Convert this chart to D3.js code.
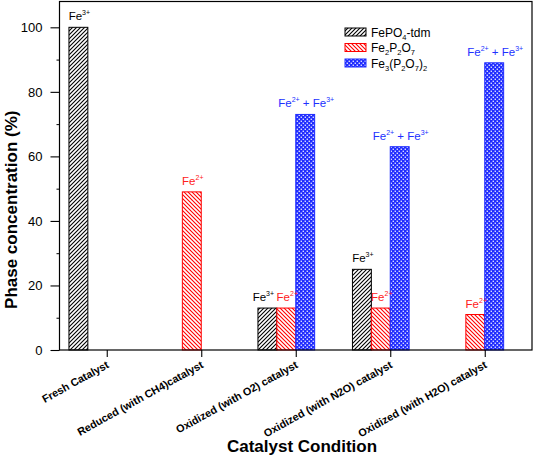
<!DOCTYPE html>
<html><head><meta charset="utf-8">
<script src="https://cdn.jsdelivr.net/npm/d3@7"></script>
<style>body{margin:0;background:#fff}svg{display:block;font-family:"Liberation Sans",Arial,sans-serif}</style>
</head><body>
<script>
const categories = ["Fresh Catalyst","Reduced (with CH4)catalyst","Oxidized (with O2) catalyst","Oxidized (with N2O) catalyst","Oxidized (with H2O) catalyst"];
const fepo4 = [100, 0, 13, 25, 0];
const fe2p2o7 = [0, 49, 13, 13, 11];
const fe3p2o7 = [0, 0, 73, 63, 89];
const yTicks = [0, 20, 40, 60, 80, 100];
const yMinor = [10, 30, 50, 70, 90];
// annotations: [category index, series index, text parts (base, superscript, ...)]
const annotations = [
  [0, 0, "Fe", "3+"],
  [1, 1, "Fe", "2+"],
  [2, 0, "Fe", "3+"],
  [2, 1, "Fe", "2+"],
  [2, 2, "Fe", "2+", " + Fe", "3+"],
  [3, 0, "Fe", "3+"],
  [3, 1, "Fe", "2+"],
  [3, 2, "Fe", "2+", " + Fe", "3+"],
  [4, 1, "Fe", "2+"],
  [4, 2, "Fe", "2+", " + Fe", "3+"]
];
const seriesNames = [["FePO","4","-tdm"],["Fe","2","P","2","O","7"],["Fe","3","(P","2","O","7",")","2"]];

(function(){
const W = 534, H = 457;
const mL = 59.5, mR = 532, mT = 1.5, mB = 350;
const svg = d3.select("body").append("svg").attr("width", W).attr("height", H);
const defs = svg.append("defs");

const pb = defs.append("pattern").attr("id","pBlack").attr("patternUnits","userSpaceOnUse").attr("width",4).attr("height",4);
pb.append("rect").attr("width",4).attr("height",4).attr("fill","#fff");
pb.append("path").attr("d","M-1,1 L1,-1 M0,4 L4,0 M3,5 L5,3").attr("stroke","#000").attr("stroke-width",1.1);
const pr = defs.append("pattern").attr("id","pRed").attr("patternUnits","userSpaceOnUse").attr("width",4).attr("height",4);
pr.append("rect").attr("width",4).attr("height",4).attr("fill","#fff");
pr.append("path").attr("d","M-1,3 L1,5 M0,0 L4,4 M3,-1 L5,1").attr("stroke","#ff0000").attr("stroke-width",1.1);
const pbl = defs.append("pattern").attr("id","pBlue").attr("patternUnits","userSpaceOnUse").attr("width",4).attr("height",4);
pbl.append("rect").attr("width",4).attr("height",4).attr("fill","#1f2cff");
pbl.append("rect").attr("x",0.6).attr("y",0.6).attr("width",1.3).attr("height",1.3).attr("fill","#fff");
pbl.append("rect").attr("x",2.6).attr("y",2.6).attr("width",1.3).attr("height",1.3).attr("fill","#fff");

const fills = ["url(#pBlack)","url(#pRed)","url(#pBlue)"];
const strokes = ["#000","#ff0000","#1f2cff"];
const textColors = ["#000","#ff2020","#2030ff"];
const series = [fepo4, fe2p2o7, fe3p2o7];

const x = d3.scaleLinear().domain([0.5, 5.5]).range([mL, mR]);
const y = d3.scaleLinear().domain([0, 108]).range([mB, mT]);
const bw = 0.2;

series.forEach((vals, s) => {
  svg.append("g").selectAll("rect").data(vals.map((v,i)=>({v,i})).filter(d=>d.v>0)).join("rect")
    .attr("x", d => x(d.i + 1 + (s - 2) * bw))
    .attr("width", x(bw) - x(0))
    .attr("y", d => y(d.v))
    .attr("height", d => y(0) - y(d.v))
    .attr("fill", fills[s]).attr("stroke", strokes[s]).attr("stroke-width", 1);
});

svg.append("rect").attr("x",mL).attr("y",mT).attr("width",mR-mL).attr("height",mB-mT)
  .attr("fill","none").attr("stroke","#000").attr("stroke-width",1.2);

const ya = svg.append("g").attr("transform",`translate(${mL},0)`)
  .call(d3.axisLeft(y).tickValues(yTicks).tickSize(9).tickPadding(8).tickFormat(d3.format("d")));
ya.select(".domain").remove();
ya.selectAll("text").attr("font-size",13).attr("font-family","Liberation Sans, Arial, sans-serif");
ya.selectAll("line").attr("stroke-width",1.1);
const ym = svg.append("g").attr("transform",`translate(${mL},0)`)
  .call(d3.axisLeft(y).tickValues(yMinor).tickSize(3).tickFormat(""));
ym.select(".domain").remove();

const xa = svg.append("g").attr("transform",`translate(0,${mB})`)
  .call(d3.axisBottom(x).tickValues([1,2,3,4,5]).tickSize(7).tickFormat(""));
xa.select(".domain").remove();
xa.selectAll("line").attr("stroke-width",1.1);
svg.append("g").selectAll("text").data(categories).join("text")
  .attr("transform",(d,i)=>`translate(${x(i+1)+3},${mB+17}) rotate(-29)`)
  .attr("text-anchor","end").attr("font-size",10.8).attr("font-weight","bold").text(d=>d);

svg.append("text").attr("x",302).attr("y",452).attr("text-anchor","middle")
  .attr("font-size",17).attr("font-weight","bold").text("Catalyst Condition");
svg.append("text").attr("transform",`translate(17,${(mT+mB)/2+34}) rotate(-90)`).attr("text-anchor","middle")
  .attr("font-size",17).attr("font-weight","bold").text("Phase concentration (%)");

const lg = svg.append("g");
seriesNames.forEach((parts, s) => {
  const ly = 32 + s * 15.5;
  lg.append("rect").attr("x",345).attr("y",ly-4).attr("width",21).attr("height",8)
    .attr("fill",fills[s]).attr("stroke",strokes[s]);
  const t = lg.append("text").attr("x",371).attr("y",ly+4.5).attr("font-size",12);
  parts.forEach((p, k) => {
    const sub = k % 2 === 1;
    t.append("tspan").attr("font-size", sub ? 7.5 : 12).attr("dy", sub ? 3 : (k>0 ? -3 : 0)).text(p);
  });
});

const annShift = {"2-0": -5};
annotations.forEach(a => {
  const [ci, si] = a;
  const v = series[si][ci];
  const cx = x(ci + 1 + (si - 2) * bw) + (x(bw) - x(0)) / 2 + (annShift[ci+"-"+si] || 0) + 1;
  const t = svg.append("text").attr("x", cx).attr("y", y(v) - 7).attr("text-anchor","middle")
    .attr("font-size",11.5).attr("fill",textColors[si]);
  const parts = a.slice(2);
  parts.forEach((p, k) => {
    const sup = k % 2 === 1;
    t.append("tspan").attr("font-size", sup ? 7 : 11.5).attr("dy", sup ? -5 : (k>0 ? 5 : 0)).text(p);
  });
});
})();
</script>
</body></html>
